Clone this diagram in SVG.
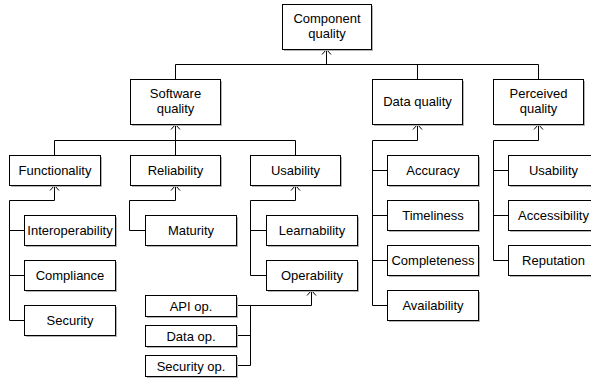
<svg xmlns="http://www.w3.org/2000/svg" width="591" height="379" viewBox="0 0 591 379">
<defs>
<marker id="arr" viewBox="-6 -6 12 12" markerWidth="12" markerHeight="12" refX="0" refY="0" orient="auto" markerUnits="userSpaceOnUse">
<path d="M-5,-4.5 L0,0 L-5,4.5" fill="none" stroke="#000" stroke-width="1"/>
</marker>
</defs>
<style>
.sh{fill:#b4b4b4;stroke:none}
.bx{fill:#fff;stroke:#000;stroke-width:1}
text{font-family:"Liberation Sans",Arial,sans-serif;font-size:13px;fill:#000;text-anchor:middle}
.c path{fill:none;stroke:#000;stroke-width:1}
</style>
<rect width="591" height="379" fill="#fff"/>
<g class="c" id="connectors">
<path d="M175.5,79.5 V64.5 H538.5 V79.5 M417.5,64.5 V79.5"/>
<path d="M326.5,64.5 V49.5" marker-end="url(#arr)"/>
<path d="M54.5,155.5 V140.5 H295.5 V155.5"/>
<path d="M175.5,155.5 V124.5" marker-end="url(#arr)"/>
<path d="M9.5,320.5 V200.5 H54.5 V185.5" marker-end="url(#arr)"/>
<path d="M9.5,230.5 H24.5 M9.5,275.5 H24.5 M9.5,320.5 H24.5"/>
<path d="M145.5,230.5 H129.5 V200.5 H175.5 V185.5" marker-end="url(#arr)"/>
<path d="M266.5,275.5 H250.5 V200.5 H295.5 V185.5" marker-end="url(#arr)"/>
<path d="M250.5,230.5 H266.5"/>
<path d="M236.5,305.5 H311.5 V290.5" marker-end="url(#arr)"/>
<path d="M250.5,305.5 V365.5 H236.5 M236.5,335.5 H250.5"/>
<path d="M387.5,305.5 H372.5 V140.5 H417.5 V124.5" marker-end="url(#arr)"/>
<path d="M372.5,170.5 H387.5 M372.5,215.5 H387.5 M372.5,260.5 H387.5"/>
<path d="M508.5,260.5 H493.5 V140.5 H538.5 V124.5" marker-end="url(#arr)"/>
<path d="M493.5,170.5 H508.5 M493.5,215.5 H508.5"/>
</g>
<g id="n-component"><rect class="sh" x="284" y="6" width="89" height="45"/><rect class="bx" x="282.5" y="4.5" width="89" height="45"/><text x="327" y="23">Component</text><text x="327" y="38">quality</text></g>
<g id="n-software"><rect class="sh" x="132" y="81" width="90" height="45"/><rect class="bx" x="130.5" y="79.5" width="90" height="45"/><text x="175.5" y="98">Software</text><text x="175.5" y="113">quality</text></g>
<g id="n-data"><rect class="sh" x="374" y="81" width="90" height="45"/><rect class="bx" x="372.5" y="79.5" width="90" height="45"/><text x="417.5" y="106">Data quality</text></g>
<g id="n-perceived"><rect class="sh" x="495" y="81" width="90" height="45"/><rect class="bx" x="493.5" y="79.5" width="90" height="45"/><text x="538.5" y="98">Perceived</text><text x="538.5" y="113">quality</text></g>
<g id="n-functionality"><rect class="sh" x="11" y="157" width="91" height="30"/><rect class="bx" x="9.5" y="155.5" width="91" height="30"/><text x="55" y="175">Functionality</text></g>
<g id="n-reliability"><rect class="sh" x="132" y="157" width="90" height="30"/><rect class="bx" x="130.5" y="155.5" width="90" height="30"/><text x="175.5" y="175">Reliability</text></g>
<g id="n-usability"><rect class="sh" x="252" y="157" width="90" height="30"/><rect class="bx" x="250.5" y="155.5" width="90" height="30"/><text x="295.5" y="175">Usability</text></g>
<g id="n-interoperability"><rect class="sh" x="26" y="217" width="91" height="30"/><rect class="bx" x="24.5" y="215.5" width="91" height="30"/><text x="70" y="235">Interoperability</text></g>
<g id="n-compliance"><rect class="sh" x="26" y="262" width="91" height="30"/><rect class="bx" x="24.5" y="260.5" width="91" height="30"/><text x="70" y="280">Compliance</text></g>
<g id="n-security"><rect class="sh" x="26" y="307" width="91" height="30"/><rect class="bx" x="24.5" y="305.5" width="91" height="30"/><text x="70" y="325">Security</text></g>
<g id="n-maturity"><rect class="sh" x="147" y="217" width="91" height="30"/><rect class="bx" x="145.5" y="215.5" width="91" height="30"/><text x="191" y="235">Maturity</text></g>
<g id="n-learnability"><rect class="sh" x="268" y="217" width="91" height="30"/><rect class="bx" x="266.5" y="215.5" width="91" height="30"/><text x="312" y="235">Learnability</text></g>
<g id="n-operability"><rect class="sh" x="268" y="262" width="91" height="30"/><rect class="bx" x="266.5" y="260.5" width="91" height="30"/><text x="312" y="280">Operability</text></g>
<g id="n-apiop"><rect class="sh" x="147" y="297" width="91" height="21"/><rect class="bx" x="145.5" y="295.5" width="91" height="21"/><text x="191" y="310.5">API op.</text></g>
<g id="n-dataop"><rect class="sh" x="147" y="327" width="91" height="21"/><rect class="bx" x="145.5" y="325.5" width="91" height="21"/><text x="191" y="340.5">Data op.</text></g>
<g id="n-securityop"><rect class="sh" x="147" y="357" width="91" height="21"/><rect class="bx" x="145.5" y="355.5" width="91" height="21"/><text x="191" y="370.5">Security op.</text></g>
<g id="n-accuracy"><rect class="sh" x="389" y="157" width="91" height="30"/><rect class="bx" x="387.5" y="155.5" width="91" height="30"/><text x="433" y="175">Accuracy</text></g>
<g id="n-timeliness"><rect class="sh" x="389" y="202" width="91" height="30"/><rect class="bx" x="387.5" y="200.5" width="91" height="30"/><text x="433" y="220">Timeliness</text></g>
<g id="n-completeness"><rect class="sh" x="389" y="247" width="91" height="30"/><rect class="bx" x="387.5" y="245.5" width="91" height="30"/><text x="433" y="265">Completeness</text></g>
<g id="n-availability"><rect class="sh" x="389" y="292" width="91" height="30"/><rect class="bx" x="387.5" y="290.5" width="91" height="30"/><text x="433" y="310">Availability</text></g>
<g id="n-pusability"><rect class="sh" x="510" y="157" width="90" height="30"/><rect class="bx" x="508.5" y="155.5" width="90" height="30"/><text x="553.5" y="175">Usability</text></g>
<g id="n-accessibility"><rect class="sh" x="510" y="202" width="90" height="30"/><rect class="bx" x="508.5" y="200.5" width="90" height="30"/><text x="553.5" y="220">Accessibility</text></g>
<g id="n-reputation"><rect class="sh" x="510" y="247" width="90" height="30"/><rect class="bx" x="508.5" y="245.5" width="90" height="30"/><text x="553.5" y="265">Reputation</text></g>
</svg>
